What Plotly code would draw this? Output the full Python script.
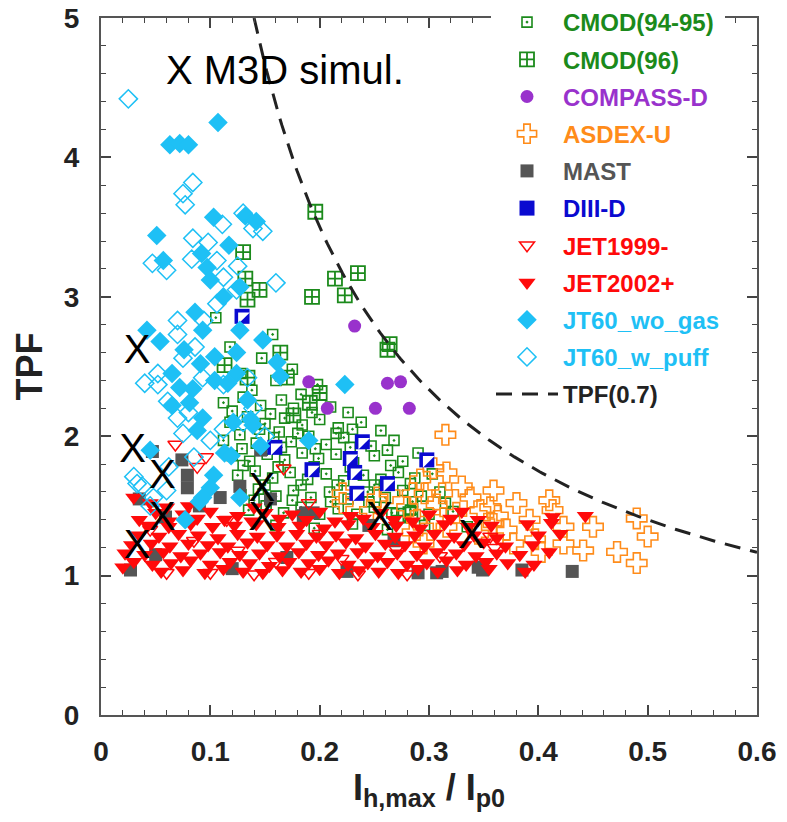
import numpy as np
import plotly.graph_objects as go

FONT = "Liberation Sans, Arial, sans-serif"

# ---------------- data ----------------
cmod9495_x = [0.105,0.157,0.118,0.147,0.175,0.128,0.160,0.198,0.183,
              0.112,0.130,0.146,0.165,0.210,0.226,
              0.118,0.134,0.150,0.168,0.184,0.200,0.217,0.238,0.256,
              0.112,0.127,0.142,0.158,0.174,0.190,0.206,0.222,0.247,0.268,
              0.120,0.136,0.152,0.168,0.184,0.199,0.215,0.231,0.250,0.276,0.290,
              0.125,0.141,0.157,0.173,0.189,0.206,0.222,0.240,0.256,0.272,0.287,0.303,
              0.128,0.144,0.160,0.176,0.192,0.209,0.226,0.244,0.260,0.276,0.293,0.310,
              0.135,0.151,0.167,0.183,0.200,0.217,0.234,0.250,0.266,0.283,0.300,0.322,
              0.160,0.195,0.230,0.262,0.296,0.335,
              0.120,0.138,0.155,0.176,0.193,0.145,0.163,0.180,0.215,0.230,0.129,0.147,
              0.165,0.196,0.228,0.262,0.130,0.162,0.195,0.228,0.265,0.150,0.183,0.216,
              0.250,0.283,0.140,0.175,0.210,0.245,0.285,0.315]
cmod9495_y = [2.85,2.73,2.64,2.56,2.48,2.45,2.40,2.37,2.30,
              2.24,2.28,2.22,2.26,2.21,2.17,
              2.10,2.14,2.09,2.13,2.08,2.12,2.06,2.10,2.04,
              1.97,2.01,1.95,1.99,1.96,2.00,1.94,1.99,1.93,1.97,
              1.86,1.82,1.87,1.83,1.88,1.84,1.87,1.81,1.86,1.82,1.88,
              1.72,1.75,1.70,1.74,1.69,1.73,1.68,1.72,1.69,1.74,1.70,1.73,
              1.58,1.62,1.57,1.61,1.56,1.60,1.55,1.60,1.56,1.61,1.57,1.60,
              1.47,1.50,1.45,1.49,1.44,1.48,1.44,1.49,1.45,1.47,1.44,1.46,
              1.36,1.34,1.37,1.33,1.36,1.35,
              2.18,2.33,2.16,2.20,2.17,2.05,2.03,2.02,2.02,2.05,1.91,1.90,
              1.92,1.91,1.92,1.90,1.79,1.78,1.78,1.78,1.79,1.65,1.65,1.65,
              1.65,1.66,1.54,1.54,1.53,1.53,1.53,1.52]

cmod96_x = [0.196,0.214,0.235,0.223,0.193,0.262,0.264,0.130,0.132,0.134,0.164,
            0.113,0.134,0.191,0.170,0.176,0.200,0.272,0.283,0.145]
cmod96_y = [3.61,3.13,3.17,3.01,3.00,2.62,2.66,3.32,3.13,2.98,2.60,
            2.51,2.42,2.24,2.42,2.15,2.31,1.43,1.44,3.05]

compass_x = [0.232,0.190,0.262,0.274,0.207,0.251,0.282]
compass_y = [2.79,2.39,2.38,2.39,2.20,2.20,2.20]

asdex_x = [0.315,0.304,0.316,0.292,0.330,0.359,0.285,0.296,0.312,0.280,0.307,0.347,
           0.264,0.253,0.221,0.221,0.246,0.289,0.307,0.285,0.316,0.295,0.356,0.363,
           0.371,0.359,0.377,0.392,0.410,0.413,0.397,0.403,0.423,0.423,0.441,0.450,
           0.472,0.490,0.500,0.490,0.338,0.325,0.345,0.380]
asdex_y = [2.01,1.77,1.74,1.69,1.64,1.61,1.59,1.59,1.59,1.49,1.51,1.47,
           1.59,1.56,1.59,1.52,1.47,1.40,1.40,1.31,1.35,1.23,1.49,1.43,
           1.33,1.37,1.23,1.40,1.54,1.47,1.26,1.17,1.35,1.23,1.18,1.35,
           1.17,1.41,1.28,1.09,1.56,1.45,1.30,1.52]

mast_x = [0.349,0.385,0.431,0.312,0.345,0.187,0.194,0.027,0.079,0.109,0.185,0.307,
          0.074,0.059,0.079,0.127,0.146,0.170,0.047,0.290,0.225,0.050,0.090,0.035,
          0.245,0.120,0.268,0.155]
mast_y = [1.04,1.04,1.03,1.03,1.06,1.45,1.45,1.04,1.63,1.56,1.43,1.02,
          1.83,1.42,1.72,1.64,1.90,1.13,1.89,1.02,1.03,1.15,1.50,1.55,
          1.36,1.05,1.25,1.55]

diiid_x = [0.129,0.159,0.193,0.239,0.228,0.232,0.234,0.262,0.298]
diiid_y = [2.86,1.92,1.76,1.96,1.84,1.74,1.59,1.66,1.83]

jet2002_x = [0.055,0.075,0.095,0.112,0.130,0.148,0.166,0.183,0.200,0.218,0.236,0.254,0.272,0.290,0.308,0.326,0.355,0.388,
             0.030,0.047,0.064,0.082,0.100,0.118,0.136,0.154,0.172,0.190,0.208,0.226,0.244,0.262,0.280,0.298,0.316,0.334,0.352,0.372,0.396,
             0.022,0.040,0.057,0.073,0.091,0.109,0.127,0.145,0.163,0.181,0.199,0.217,0.235,0.253,0.271,0.289,0.307,0.325,0.343,0.362,0.383,0.410,
             0.028,0.046,0.063,0.080,0.098,0.116,0.134,0.152,0.170,0.188,0.206,0.224,0.242,0.260,0.278,0.296,0.314,0.332,0.350,0.370,0.395,
             0.035,0.053,0.071,0.089,0.107,0.125,0.143,0.161,0.179,0.197,0.215,0.233,0.251,0.269,0.287,0.305,0.323,0.341,0.362,0.400,0.420,
             0.043,0.062,0.082,0.102,0.122,0.142,0.162,0.182,0.204,0.226,0.248,0.270,0.292,0.314,0.336,0.357,0.390,0.412,
             0.035,0.062,0.088,0.113,0.138,0.163,0.188,0.214,0.240,0.268,0.285,0.320,0.345,
             0.050,0.075,0.100,0.125,0.150,0.175,0.200,0.228,0.256,0.300,0.330,0.413,0.443,
             0.020,0.080,0.060,0.140,0.030,0.045]
jet2002_y = [1.03,1.04,1.02,1.05,1.03,1.02,1.04,1.03,1.05,1.02,1.04,1.03,1.02,1.05,1.03,1.04,1.05,1.03,
             1.10,1.08,1.09,1.11,1.08,1.10,1.09,1.07,1.10,1.09,1.11,1.08,1.09,1.10,1.08,1.09,1.11,1.08,1.10,1.09,1.08,
             1.16,1.15,1.17,1.14,1.16,1.17,1.15,1.16,1.14,1.17,1.15,1.16,1.17,1.14,1.16,1.15,1.17,1.16,1.14,1.16,1.15,1.17,
             1.22,1.23,1.21,1.23,1.22,1.21,1.24,1.22,1.21,1.23,1.22,1.24,1.21,1.23,1.22,1.21,1.23,1.22,1.24,1.21,1.22,
             1.29,1.28,1.30,1.29,1.27,1.30,1.28,1.29,1.30,1.28,1.29,1.27,1.30,1.28,1.29,1.30,1.28,1.29,1.27,1.29,1.30,
             1.36,1.35,1.37,1.35,1.36,1.37,1.35,1.36,1.34,1.37,1.35,1.36,1.34,1.37,1.35,1.36,1.37,1.38,
             1.40,1.39,1.41,1.40,1.39,1.41,1.40,1.39,1.41,1.40,1.39,1.41,1.40,
             1.45,1.44,1.46,1.43,1.45,1.44,1.46,1.43,1.45,1.44,1.46,1.42,1.43,
             1.06,1.50,1.49,1.49,1.56,1.52]

jet1999_x = [0.068,0.088,0.096,0.167,0.356,0.190,0.100,0.140,0.190,0.235,0.060,0.280,
             0.160,0.220,0.125,0.270,0.085,0.310,0.200,0.045,0.360,0.115]
jet1999_y = [1.94,1.78,1.85,1.77,1.28,1.52,1.02,1.01,1.02,1.01,1.02,1.01,
             1.10,1.12,1.18,1.19,1.25,1.14,1.30,1.33,1.20,1.40]

jt60wo_x = [0.107,0.063,0.072,0.080,0.051,0.103,0.132,0.142,0.057,0.092,0.097,0.100,0.117,0.127,0.112,
            0.086,0.042,0.093,0.127,0.148,0.104,0.124,0.161,0.065,0.054,0.076,
            0.164,0.124,0.091,0.084,0.116,0.081,0.134,0.104,0.072,
            0.121,0.139,0.093,0.088,0.113,0.045,0.146,0.190,0.223,
            0.103,0.100,0.090,0.127,0.093,0.077,0.065,0.137,0.119]
jt60wo_y = [4.25,4.09,4.10,4.09,3.44,3.57,3.58,3.54,3.26,3.31,3.21,3.12,3.37,3.07,3.00,
            2.89,2.76,2.76,2.76,2.69,2.57,2.60,2.53,2.45,2.68,2.62,
            2.43,2.45,2.52,2.34,2.38,2.24,2.26,2.40,2.35,
            2.10,2.08,2.13,2.04,1.88,1.90,1.93,1.97,2.37,
            1.72,1.63,1.53,1.56,1.56,1.40,2.22,2.12,1.86]

jt60w_x = [0.025,0.084,0.075,0.077,0.130,0.111,0.139,0.148,0.084,0.098,0.047,0.060,0.083,0.106,0.125,
           0.160,0.112,0.124,0.070,0.094,0.106,0.070,0.086,0.075,0.052,0.052,0.061,0.070,0.080,
           0.093,0.112,0.134,0.075,0.038,0.048,0.033,0.060,0.062,0.085,0.100,0.112,0.130,0.150,
           0.139,0.040,0.030,0.045]
jt60w_y = [4.42,3.82,3.74,3.66,3.60,3.52,3.49,3.47,3.42,3.39,3.24,3.19,3.27,3.26,3.22,
           3.10,3.14,3.05,2.83,2.83,2.95,2.73,2.64,2.56,2.45,2.37,2.25,2.13,2.17,
           2.42,2.37,2.42,2.02,1.64,1.56,1.66,1.61,1.78,1.85,1.97,2.05,2.10,2.00,
           2.20,2.38,1.71,1.50]

m3d_x = [0.033,0.029,0.056,0.056,0.033,0.147,0.147,0.255,0.339]
m3d_y = [2.60,1.89,1.70,1.40,1.20,1.61,1.40,1.40,1.27]

TPF_LEVEL = 0.7
tpf_x = np.linspace(TPF_LEVEL / 5.0, 0.6, 200)
tpf_y = TPF_LEVEL / tpf_x

# ---------------- styles ----------------
GREEN = "#1b8a1b"
PURPLE = "#9932CC"
ORANGE = "#FF8C1A"
GRAY = "#555555"
BLUE = "#0a0ad0"
RED = "#FF0a0a"
CYAN = "#1EC0F5"


def lab(text, color):
    return f'<span style="color:{color}">{text}</span>'


fig = go.Figure()

fig.add_trace(go.Scatter(x=cmod9495_x, y=cmod9495_y, mode="markers", name=lab("CMOD(94-95)", GREEN),
                         legendgroup="a", legendrank=1,
                         marker=dict(symbol="square-open-dot", size=10, color=GREEN, line=dict(width=1.6))))
fig.add_trace(go.Scatter(x=cmod96_x, y=cmod96_y, mode="markers", name=lab("CMOD(96)", GREEN),
                         legendgroup="b", legendrank=2,
                         marker=dict(symbol="square-cross-open", size=14, color=GREEN, line=dict(width=1.8))))
fig.add_trace(go.Scatter(x=compass_x, y=compass_y, mode="markers", name=lab("COMPASS-D", PURPLE),
                         legendgroup="c", legendrank=3,
                         marker=dict(symbol="circle", size=13, color=PURPLE)))
fig.add_trace(go.Scatter(x=asdex_x, y=asdex_y, mode="markers", name=lab("ASDEX-U", ORANGE),
                         legendgroup="d", legendrank=4,
                         marker=dict(symbol="cross-open", size=17, color=ORANGE, line=dict(width=1.6))))
fig.add_trace(go.Scatter(x=mast_x, y=mast_y, mode="markers", name=lab("MAST", GRAY),
                         legendgroup="e", legendrank=5,
                         marker=dict(symbol="square", size=13, color=GRAY)))
fig.add_trace(go.Scatter(x=diiid_x, y=diiid_y, mode="markers", name=lab("DIII-D", BLUE),
                         legendgroup="f", legendrank=6,
                         marker=dict(symbol="square", size=15, color=BLUE, line=dict(width=0))))
fig.add_trace(go.Scatter(x=diiid_x, y=diiid_y, mode="markers", showlegend=False, hoverinfo="skip",
                         legendgroup="f",
                         marker=dict(symbol="triangle-nw", size=13, color="white", line=dict(width=0))))
fig.add_trace(go.Scatter(x=jet2002_x, y=jet2002_y, mode="markers", name=lab("JET2002+", RED),
                         legendgroup="h", legendrank=8,
                         marker=dict(symbol="triangle-down", size=15, color=RED)))
fig.add_trace(go.Scatter(x=jet1999_x, y=jet1999_y, mode="markers", name=lab("JET1999-", RED),
                         legendgroup="g", legendrank=7,
                         marker=dict(symbol="triangle-down-open", size=13, color=RED, line=dict(width=1.5))))
fig.add_trace(go.Scatter(x=jt60wo_x, y=jt60wo_y, mode="markers", name=lab("JT60_wo_gas", CYAN),
                         legendgroup="i", legendrank=9,
                         marker=dict(symbol="diamond", size=15, color=CYAN)))
fig.add_trace(go.Scatter(x=jt60w_x, y=jt60w_y, mode="markers", name=lab("JT60_w_puff", CYAN),
                         legendgroup="j", legendrank=10,
                         marker=dict(symbol="diamond-open", size=14, color=CYAN, line=dict(width=1.5))))
fig.add_trace(go.Scatter(x=tpf_x, y=tpf_y, mode="lines", name="TPF(0.7)",
                         legendgroup="k", legendrank=11,
                         line=dict(color="#222222", width=3, dash="16px,10px")))
fig.add_trace(go.Scatter(x=m3d_x, y=m3d_y, mode="text", text=["X"] * len(m3d_x), showlegend=False,
                         textfont=dict(family=FONT, size=40, color="black")))

axis_common = dict(showline=True, linecolor="#555555", linewidth=2, mirror="allticks",
                   ticks="inside", ticklen=10, tickwidth=1.5, tickcolor="#444444",
                   showgrid=False, zeroline=False,
                   tickfont=dict(family=FONT, size=28, color="#222222", weight="bold"))

fig.update_xaxes(range=[0, 0.6], dtick=0.1, tick0=0, ticklabelstandoff=10,
                 minor=dict(dtick=0.02, ticks="inside", ticklen=5, tickwidth=1.2, tickcolor="#444444"),
                 title=dict(text="I<sub>h,max</sub> / I<sub>p0</sub>", standoff=6,
                            font=dict(family=FONT, size=36, color="#222222", weight="bold")),
                 **axis_common)
fig.update_yaxes(range=[0, 5], dtick=1, tick0=0, ticklabelstandoff=14,
                 minor=dict(dtick=0.2, ticks="inside", ticklen=5, tickwidth=1.2, tickcolor="#444444"),
                 title=dict(text="TPF", standoff=10,
                            font=dict(family=FONT, size=36, color="#222222", weight="bold")),
                 **axis_common)

fig.add_annotation(x=0.058, y=4.63, xref="x", yref="y", text="X M3D simul.", showarrow=False,
                   xanchor="left", yanchor="middle",
                   font=dict(family=FONT, size=40, color="black"))

fig.update_layout(
    width=787, height=822,
    margin=dict(l=101, r=30, t=18, b=107, autoexpand=False),
    plot_bgcolor="white", paper_bgcolor="white",
    legend=dict(x=(491 - 101) / 656, y=1.0, yref="container", xanchor="left", yanchor="top",
                bgcolor="white", borderwidth=0, itemwidth=62, tracegroupgap=3, maxheight=800,
                font=dict(family=FONT, size=24, color="#222222", weight="bold")),
)

fig.write_html("out.html")
